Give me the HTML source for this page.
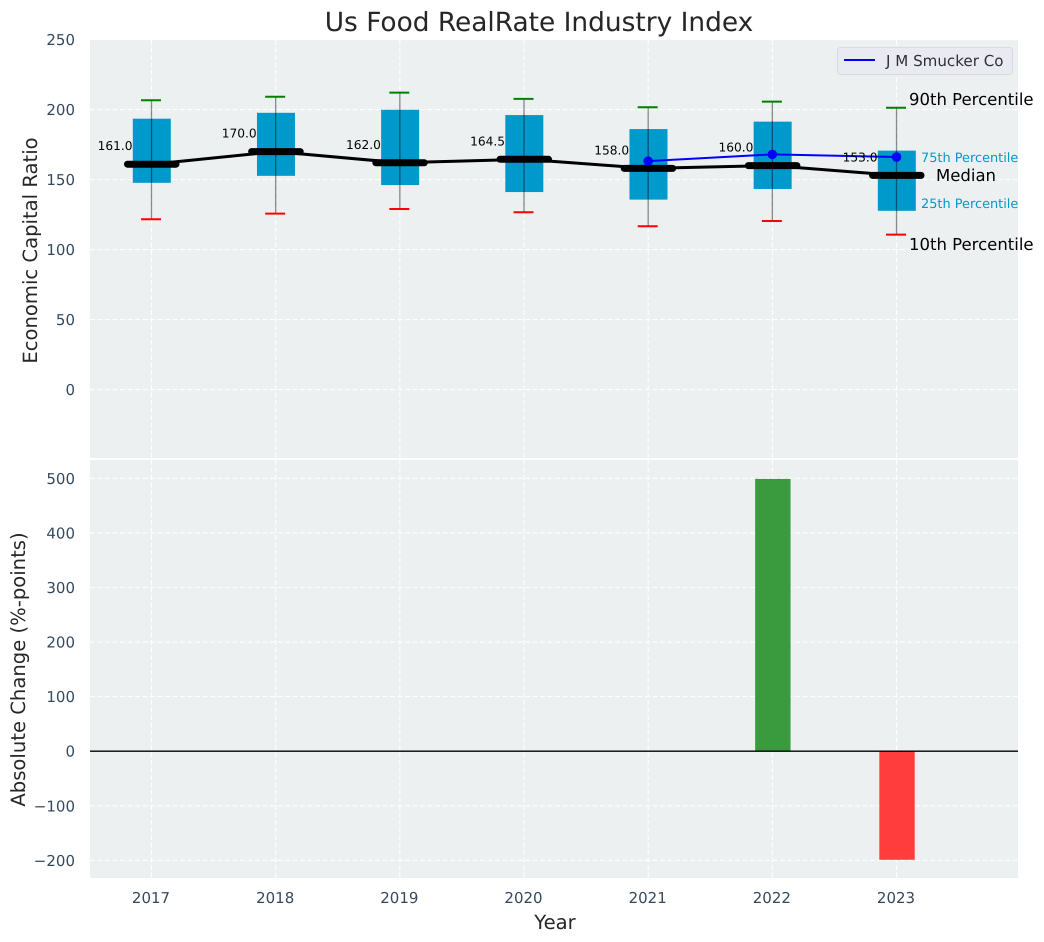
<!DOCTYPE html>
<html>
<head>
<meta charset="utf-8">
<style>
html,body{margin:0;padding:0;background:#fff;}
svg{display:block;font-family:"DejaVu Sans","Liberation Sans",sans-serif;text-rendering:geometricPrecision;}
</style>
</head>
<body>
<svg id="chart" width="1044" height="942" viewBox="0 0 1044 942" xmlns="http://www.w3.org/2000/svg">
  <rect x="90" y="40" width="928" height="418" fill="#ecf0f1"/>
  <rect x="90" y="460" width="928" height="418" fill="#ecf0f1"/>
  <g id="grid"></g>
  <g id="marks"></g>
  <g id="labels"></g>
  <text x="539" y="31" text-anchor="middle" font-size="26.4" fill="#262626">Us Food RealRate Industry Index</text>
  <text transform="translate(37,250.5) rotate(-90)" text-anchor="middle" font-size="19.6" fill="#262626">Economic Capital Ratio</text>
  <text transform="translate(25,669.5) rotate(-90)" text-anchor="middle" font-size="19.6" fill="#262626">Absolute Change (%-points)</text>
  <text x="555" y="929" text-anchor="middle" font-size="19.6" fill="#262626">Year</text>
  <g>
    <rect x="837.5" y="47.5" width="175" height="27" rx="3" fill="#eaeaf2" stroke="#d9dadf" stroke-width="1"/>
    <line x1="844" y1="60" x2="875" y2="60" stroke="#0000ff" stroke-width="2"/>
    <text x="886" y="66" font-size="15.1" fill="#2f2f35">J M Smucker Co</text>
  </g>
  <text x="909" y="105" font-size="16.5" fill="#000">90th Percentile</text>
  <text x="921" y="162" font-size="12.9" fill="#0099cc">75th Percentile</text>
  <text x="936" y="181" font-size="16.5" fill="#000">Median</text>
  <text x="921" y="208" font-size="12.9" fill="#0099cc">25th Percentile</text>
  <text x="909" y="250" font-size="16.5" fill="#000">10th Percentile</text>
</svg>
<script>
const years = [2017, 2018, 2019, 2020, 2021, 2022, 2023];
const p90 = [206.7, 209.2, 212.1, 207.7, 201.7, 205.7, 201.3];
const p75 = [193.5, 197.7, 199.9, 196.1, 186.1, 191.4, 170.7];
const median = [161, 170, 162, 164.5, 158, 160, 153];
const p25 = [147.7, 152.7, 146.1, 141.1, 135.7, 143.3, 127.7];
const p10 = [121.7, 125.7, 129, 126.7, 116.7, 120.4, 110.7];
const companyYears = [2021, 2022, 2023];
const companyValues = [163.2, 168, 166.1];
const changeYears = [2022, 2023];
const changeValues = [499, -199];
const upperTicks = [0, 50, 100, 150, 200, 250];
const lowerTicks = [-200, -100, 0, 100, 200, 300, 400, 500];

function xPos(y) { return 151.5 + (y - 2017) * 124.17; }
function yUpper(v) { return 389.6 - v * 1.4; }
function yLower(v) { return 751.2 - v * 0.5457; }

const NS = 'http://www.w3.org/2000/svg';
const gridG = document.getElementById('grid');
const marksG = document.getElementById('marks');
const labelsG = document.getElementById('labels');

function mk(parent, tag, attrs) {
  const el = document.createElementNS(NS, tag);
  for (const k in attrs) el.setAttribute(k, attrs[k]);
  parent.appendChild(el);
  return el;
}
function gridAttrs(x1, y1, x2, y2) {
  return { x1: x1, y1: y1, x2: x2, y2: y2, stroke: '#ffffff', 'stroke-width': 1.1, 'stroke-dasharray': '5 2.5' };
}

/* grid and tick labels */
years.forEach(function (yr) {
  const x = xPos(yr);
  const a = mk(gridG, 'line', gridAttrs(x, 40, x, 458));
  
  
  const b = mk(gridG, 'line', gridAttrs(x, 460, x, 878));
  
  
  const t = mk(labelsG, 'text', { x: x - 0.5, y: 903, 'text-anchor': 'middle', 'font-size': 15, fill: '#34495e' });
  t.textContent = String(yr);
  
  
});
upperTicks.forEach(function (v) {
  const y = yUpper(v);
  const g = mk(gridG, 'line', gridAttrs(90, y, 1018, y));
  
  
  const t = mk(labelsG, 'text', { x: 75, y: y + 5.5, 'text-anchor': 'end', 'font-size': 15, fill: '#34495e' });
  t.textContent = String(v);
  
  
});
lowerTicks.forEach(function (v) {
  const y = yLower(v);
  const g = mk(gridG, 'line', gridAttrs(90, y, 1018, y));
  
  
  const t = mk(labelsG, 'text', { x: 75, y: y + 5.5, 'text-anchor': 'end', 'font-size': 15, fill: '#34495e' });
  t.textContent = String(v).replace('-', '\u2212');
  
  
});

/* boxes */
years.forEach(function (yr, i) {
  const x = xPos(yr);
  const box = mk(marksG, 'rect', { x: x - 18.7, y: yUpper(p75[i]), width: 38, height: yUpper(p25[i]) - yUpper(p75[i]), fill: '#0099cc' });
  
  
  const w = mk(marksG, 'line', { x1: x, y1: yUpper(p90[i]), x2: x, y2: yUpper(p10[i]), stroke: '#000', 'stroke-opacity': 0.45, 'stroke-width': 1.3 });
  
  
  const hi = mk(marksG, 'line', { x1: x - 10.5, y1: yUpper(p90[i]), x2: x + 9.5, y2: yUpper(p90[i]), stroke: '#008000', 'stroke-width': 2 });
  
  
  const lo = mk(marksG, 'line', { x1: x - 10.5, y1: yUpper(p10[i]), x2: x + 9.5, y2: yUpper(p10[i]), stroke: '#ff0000', 'stroke-width': 2 });
  
  
});

/* median line */
const medianLine = mk(marksG, 'polyline', {
  points: years.map(function (yr, i) { return xPos(yr) + ',' + yUpper(median[i]); }).join(' '),
  fill: 'none', stroke: '#000', 'stroke-width': 3
});



years.forEach(function (yr, i) {
  const x = xPos(yr);
  const y = yUpper(median[i]);
  const m = mk(marksG, 'line', { x1: x - 24, y1: y, x2: x + 24.5, y2: y, stroke: '#000', 'stroke-width': 7, 'stroke-linecap': 'round' });
  
  
  const t = mk(labelsG, 'text', { x: x - 19, y: y - 14, 'text-anchor': 'end', 'font-size': 12.2, fill: '#000' });
  t.textContent = median[i].toFixed(1);
  
  
});

/* company line */
const companyLine = mk(marksG, 'polyline', {
  points: companyYears.map(function (yr, i) { return xPos(yr) + ',' + yUpper(companyValues[i]); }).join(' '),
  fill: 'none', stroke: '#0000ff', 'stroke-width': 2
});


companyYears.forEach(function (yr, i) {
  const p = mk(marksG, 'circle', { cx: xPos(yr), cy: yUpper(companyValues[i]), r: 4.8, fill: '#0000ff' });
  
  
});

/* change bars */
changeYears.forEach(function (yr, i) {
  const v = changeValues[i];
  const top = yLower(Math.max(v, 0));
  const bot = yLower(Math.min(v, 0));
  const b = mk(marksG, 'rect', { x: xPos(yr) - 17.2, y: top, width: 35.4, height: bot - top, fill: v >= 0 ? '#3a9b3e' : '#ff3d3d' });
  
  
});
const zero = mk(marksG, 'line', { x1: 90, y1: yLower(0), x2: 1018, y2: yLower(0), stroke: '#000', 'stroke-width': 1.3 });


</script>
</body>
</html>
